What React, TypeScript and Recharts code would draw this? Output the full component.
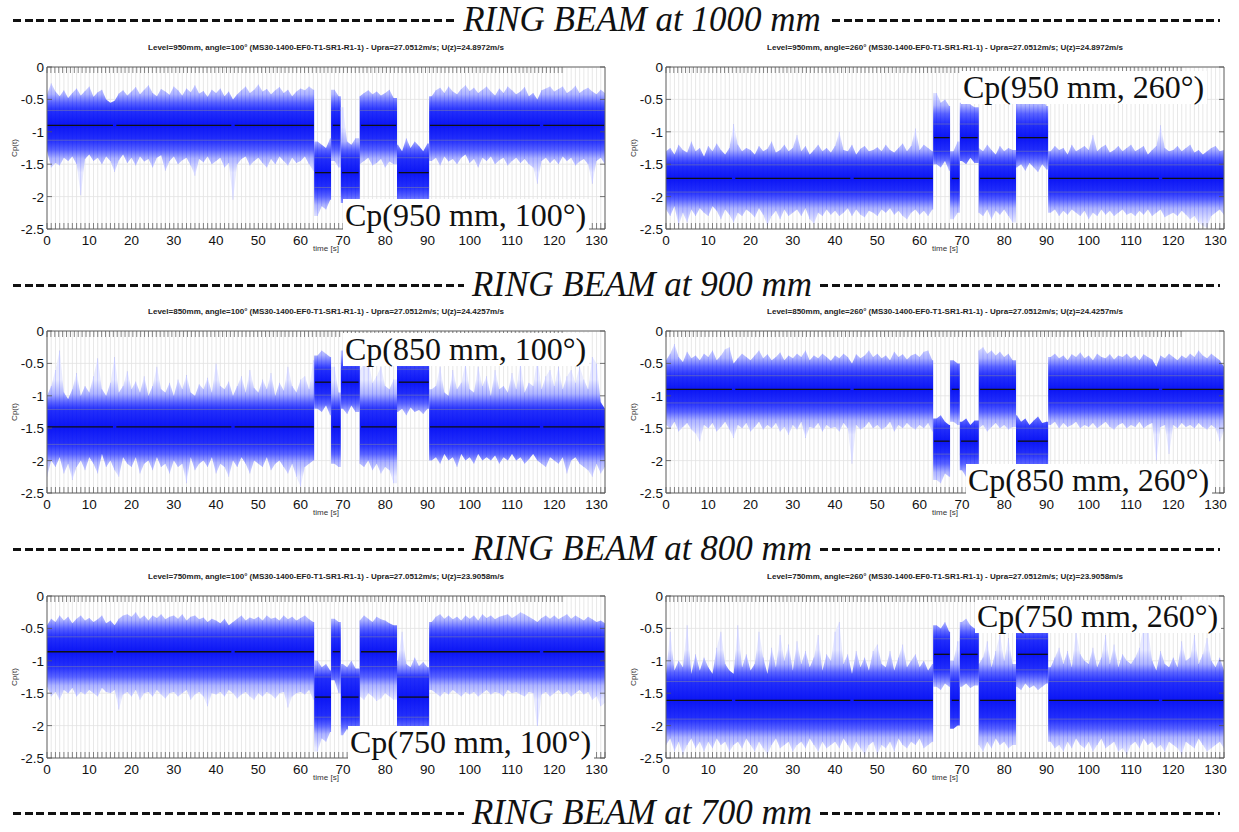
import React, { useMemo } from 'react';
import { ComposedChart, Area, Bar, XAxis, YAxis, CartesianGrid, ReferenceLine } from 'recharts';

// ---- time base (s) -------------------------------------------------------
const T_END = 132;
// Alternating flow regimes: 'base' level and 'shift' level
const SEG_FROM = [0, 63.2, 67.2, 69.5, 74, 82.8, 90.4];
const SEG_TO = [63.2, 67.2, 69.5, 74, 82.8, 90.4, 132];
const SEG_KIND = ['base', 'shift', 'base', 'shift', 'base', 'shift', 'base'];
// Runs over which the running mean is plotted
const MEAN_FROM = [0, 16.4, 44.4, 63.4, 67.6, 69.8, 74.3, 83.2, 90.6, 117.4];
const MEAN_TO = [15.6, 43.6, 63.1, 67.1, 69.3, 73.7, 82.6, 90.3, 116.6, 131.8];
const MEAN_KIND = ['base', 'base', 'base', 'shift', 'base', 'shift', 'base', 'shift', 'base', 'base'];

const X_TICKS = Array.from({ length: T_END + 1 }, (_, i) => i);
const Y_TICKS = [0, -0.5, -1, -1.5, -2, -2.5];

// ---- Level 950 mm, angle 100° ---------------------------------------------
const hi950_100 = [
  -0.42, -0.25, -0.38, -0.45, -0.36, -0.48, -0.40, -0.33, -0.44, -0.37,
  -0.30, -0.46, -0.39, -0.35, -0.50, -0.55, -0.52, -0.41, -0.36, -0.44,
  -0.38, -0.31, -0.42, -0.35, -0.28, -0.40, -0.45, -0.34, -0.38, -0.43,
  -0.30, -0.36, -0.44, -0.33, -0.39, -0.28, -0.41, -0.37, -0.46, -0.35,
  -0.40, -0.33, -0.45, -0.38, -0.50, -0.42, -0.36, -0.30, -0.40, -0.35,
  -0.27, -0.38, -0.34, -0.42, -0.36, -0.31, -0.40, -0.35, -0.45, -0.38,
  -0.33, -0.36, -0.30, -0.35,
  -1.15, -1.20, -1.25, -1.10,
  -0.35, -0.45,
  -0.62, -1.15, -1.20, -1.10,
  -0.45, -0.40, -0.36, -0.42, -0.38, -0.44, -0.40, -0.35, -0.48,
  -1.20, -1.30, -1.10, -1.25, -1.15, -1.22, -1.30, -1.18,
  -0.45, -0.36, -0.32, -0.40, -0.30, -0.38, -0.42, -0.34, -0.28,
  -0.37, -0.32, -0.40, -0.35, -0.30, -0.38, -0.44, -0.33, -0.40, -0.30,
  -0.36, -0.42, -0.38, -0.31, -0.45, -0.40, -0.50, -0.36, -0.33, -0.30,
  -0.38, -0.34, -0.30, -0.40, -0.36, -0.29, -0.40, -0.35, -0.32, -0.38,
  -0.42, -0.35, -0.40,
];
const lo950_100 = [
  -1.30, -1.55, -1.48, -1.52, -1.40, -1.45, -1.38, -1.50, -1.98, -1.42,
  -1.35, -1.45, -1.40, -1.50, -1.38, -1.45, -1.62, -1.44, -1.35, -1.48,
  -1.40, -1.52, -1.38, -1.46, -1.42, -1.55, -1.40, -1.36, -1.60, -1.45,
  -1.38, -1.50, -1.44, -1.40, -1.52, -1.68, -1.42, -1.47, -1.38, -1.50,
  -1.45, -1.40, -1.55, -1.48, -2.05, -1.50, -1.42, -1.38, -1.52, -1.45,
  -1.40, -1.48, -1.55, -1.42, -1.50, -1.38, -1.45, -1.52, -1.40, -1.48,
  -1.45, -1.38, -1.50, -1.60,
  -2.30, -2.15, -2.20, -2.05,
  -1.45, -1.55,
  -2.10, -2.20, -2.15, -2.05,
  -1.50, -1.45, -1.40, -1.52, -1.48, -1.42, -1.55, -1.46, -1.50,
  -2.20, -2.30, -2.15, -2.35, -2.25, -2.20, -2.30, -2.10,
  -1.45, -1.40, -1.52, -1.38, -1.46, -1.42, -1.50, -1.40, -1.35,
  -1.48, -1.42, -1.55, -1.40, -1.45, -1.38, -1.50, -1.44, -1.40, -1.52,
  -1.45, -1.40, -1.48, -1.42, -1.50, -1.55, -1.80, -1.45, -1.40, -1.48,
  -1.42, -1.50, -1.38, -1.45, -1.40, -1.52, -1.46, -1.42, -1.50, -1.80,
  -1.45, -1.40, -1.50,
];
const mean950_100 = [-0.9, -1.63];
const std950_100 = [0.23, 0.23];
const dense950_100 = [-1.28, -0.55, -2.0, -1.28];

// ---- Level 950 mm, angle 260° ---------------------------------------------
const hi950_260 = [
  -1.30, -1.25, -1.35, -1.20, -1.28, -1.32, -1.15, -1.30, -1.25, -1.38,
  -1.22, -1.30, -1.18, -1.28, -1.35, -1.25, -0.88, -1.20, -1.30, -1.25,
  -1.28, -1.35, -1.22, -1.30, -1.26, -1.15, -1.32, -1.28, -1.20, -1.30,
  -1.25, -1.05, -1.30, -1.22, -1.35, -1.28, -1.20, -1.30, -1.25, -1.32,
  -1.22, -1.00, -1.28, -1.30, -1.20, -1.35, -1.26, -1.22, -1.30, -1.28,
  -1.24, -1.30, -1.20, -1.28, -1.32, -1.25, -1.18, -1.30, -1.22, -0.95,
  -1.28, -1.20, -1.25, -1.30,
  -0.40, -0.55, -0.50, -0.60,
  -1.30, -1.15,
  -0.55, -0.50, -0.58, -0.62,
  -1.25, -1.30, -1.20, -1.28, -1.35, -1.22, -1.30, -1.25, -1.28,
  -0.50, -0.45, -0.55, -0.42, -0.50, -0.58, -0.48, -0.60,
  -1.30, -1.22, -1.28, -1.25, -1.35, -1.20, -1.30, -1.26, -1.22,
  -1.28, -1.05, -1.30, -1.24, -1.20, -1.32, -1.28, -1.22, -1.30, -1.25,
  -1.20, -1.30, -1.26, -1.22, -1.35, -1.28, -1.22, -0.90, -1.25, -1.30,
  -1.28, -1.22, -1.30, -1.25, -1.20, -1.32, -1.28, -1.35, -1.30, -1.25,
  -1.22, -1.30, -1.28,
];
const lo950_260 = [
  -2.20, -2.30, -2.15, -2.45, -2.25, -2.40, -2.20, -2.30, -2.18, -2.25,
  -2.30, -2.15, -2.22, -2.35, -2.20, -2.28, -2.40, -2.25, -2.30, -2.20,
  -2.25, -2.32, -2.18, -2.28, -2.45, -2.30, -2.22, -2.35, -2.20, -2.30,
  -2.25, -2.20, -2.30, -2.18, -2.35, -2.42, -2.25, -2.30, -2.20, -2.28,
  -2.22, -2.30, -2.25, -2.18, -2.30, -2.20, -2.28, -2.32, -2.22, -2.25,
  -2.30, -2.20, -2.25, -2.18, -2.28, -2.22, -2.30, -2.35, -2.25, -2.20,
  -2.28, -2.22, -2.30, -2.20,
  -1.50, -1.55, -1.45, -1.60,
  -2.35, -2.25,
  -1.45, -1.50, -1.40, -1.48,
  -2.25, -2.30, -2.20, -2.35, -2.22, -2.28, -2.20, -2.30, -2.40,
  -1.55, -1.50, -1.60, -1.48, -1.55, -1.62, -1.50, -1.58,
  -2.25, -2.20, -2.30, -2.22, -2.28, -2.20, -2.25, -2.30, -2.22,
  -2.35, -2.25, -2.30, -2.20, -2.28, -2.22, -2.30, -2.25, -2.20, -2.28,
  -2.25, -2.30, -2.22, -2.28, -2.20, -2.30, -2.25, -2.20, -2.32, -2.28,
  -2.25, -2.30, -2.22, -2.28, -2.35, -2.30, -2.40, -2.45, -2.48, -2.30,
  -2.25, -2.20, -2.28,
];
const mean950_260 = [-1.72, -1.09];
const std950_260 = [0.21, 0.21];
const dense950_260 = [-2.05, -1.4, -1.42, -0.72];

// ---- Level 850 mm, angle 100° ---------------------------------------------
const hi850_100 = [
  -1.00, -0.85, -0.60, -0.30, -0.95, -1.05, -0.90, -0.65, -1.00, -0.85,
  -0.95, -0.70, -0.42, -0.90, -1.00, -0.80, -0.40, -0.95, -0.85, -0.62,
  -0.90, -0.78, -0.95, -0.70, -1.00, -0.85, -0.55, -0.90, -0.95, -0.80,
  -1.00, -0.75, -0.90, -0.68, -0.95, -1.00, -0.82, -0.90, -0.72, -0.95,
  -0.50, -0.85, -0.90, -0.78, -1.00, -0.85, -0.70, -0.95, -0.60, -0.88,
  -0.95, -0.75, -0.90, -0.65, -1.00, -0.80, -0.92, -0.55, -0.85, -0.95,
  -0.75, -0.70, -0.90, -0.45,
  -0.38, -0.30, -0.35, -0.40,
  -0.55, -0.95,
  -0.30, -0.35, -0.32, -0.38,
  -0.60, -0.50, -0.45, -0.80, -0.70, -0.55, -0.85, -0.90, -0.75,
  -0.35, -0.30, -0.38, -0.32, -0.40, -0.35, -0.30, -0.38,
  -0.90, -0.85, -0.55, -0.95, -1.00, -0.60, -0.90, -0.80, -0.50,
  -0.90, -0.95, -0.55, -0.85, -0.70, -1.00, -0.60, -0.90, -0.85, -0.95,
  -0.65, -0.90, -0.48, -0.95, -0.80, -0.85, -0.42, -0.90, -0.70, -0.60,
  -0.85, -0.55, -0.90, -0.70, -0.60, -0.80, -0.55, -0.75, -0.90, -0.40,
  -0.50, -1.10, -1.20,
];
const lo850_100 = [
  -2.25, -2.00, -2.10, -1.95, -2.20, -2.05, -2.30, -2.10, -2.00, -2.15,
  -1.95, -2.05, -2.20, -1.90, -2.10, -2.00, -2.15, -2.25, -1.95, -2.05,
  -2.10, -1.95, -2.20, -2.05, -2.00, -2.15, -1.95, -2.10, -2.05, -2.20,
  -2.00, -2.10, -2.05, -2.35, -1.95, -2.15, -2.05, -2.00, -2.10, -1.95,
  -2.20, -2.05, -2.10, -2.25, -2.00, -2.10, -1.95, -2.05, -2.20, -2.00,
  -2.05, -2.10, -1.95, -2.15, -2.05, -2.00, -2.10, -2.20, -2.05, -2.25,
  -2.40, -2.10, -2.05, -2.00,
  -1.20, -1.25, -1.15, -1.30,
  -2.05, -2.10,
  -1.20, -1.28, -1.15, -1.25,
  -2.05, -2.10, -2.00, -2.15, -2.05, -2.20, -2.10, -2.15, -2.35,
  -1.25, -1.20, -1.30, -1.18, -1.25, -1.22, -1.28, -1.20,
  -2.00, -1.95, -2.05, -1.90, -2.00, -1.95, -2.10, -1.90, -2.00,
  -1.95, -2.05, -1.90, -2.00, -1.95, -2.00, -1.92, -2.05, -1.95, -2.00,
  -1.90, -2.00, -1.95, -2.05, -1.98, -1.90, -2.00, -2.05, -2.10, -1.95,
  -2.00, -2.05, -1.95, -2.20, -2.00, -1.95, -2.05, -2.10, -2.15, -2.25,
  -2.05, -2.20, -2.10,
];
const mean850_100 = [-1.48, -0.79];
const std850_100 = [0.27, 0.2];
const dense850_100 = [-1.9, -1.1, -1.12, -0.5];

// ---- Level 850 mm, angle 260° ---------------------------------------------
const hi850_260 = [
  -0.45, -0.35, -0.20, -0.40, -0.48, -0.32, -0.42, -0.38, -0.45, -0.35,
  -0.40, -0.30, -0.45, -0.38, -0.28, -0.25, -0.50, -0.42, -0.35, -0.40,
  -0.45, -0.38, -0.30, -0.42, -0.36, -0.45, -0.40, -0.33, -0.45, -0.38,
  -0.42, -0.35, -0.40, -0.30, -0.45, -0.38, -0.42, -0.35, -0.40, -0.46,
  -0.38, -0.42, -0.35, -0.40, -0.50, -0.36, -0.42, -0.38, -0.30, -0.40,
  -0.35, -0.42, -0.38, -0.45, -0.32, -0.40, -0.36, -0.44, -0.38, -0.35,
  -0.40, -0.32, -0.30, -0.45,
  -1.35, -1.30, -1.40, -1.45,
  -0.45, -0.50,
  -1.40, -1.35, -1.45, -1.38,
  -0.30, -0.25, -0.35, -0.30, -0.38, -0.32, -0.40, -0.35, -0.45,
  -1.30, -1.40, -1.35, -1.45, -1.38, -1.32, -1.42, -1.40,
  -0.40, -0.35, -0.42, -0.38, -0.45, -0.36, -0.40, -0.33, -0.42,
  -0.38, -0.45, -0.35, -0.40, -0.42, -0.36, -0.44, -0.38, -0.40, -0.35,
  -0.42, -0.38, -0.45, -0.36, -0.40, -0.44, -0.55, -0.38, -0.42, -0.35,
  -0.40, -0.45, -0.38, -0.42, -0.35, -0.40, -0.30, -0.38, -0.42, -0.35,
  -0.40, -0.45, -0.55,
];
const lo850_260 = [
  -1.45, -1.50, -1.40, -1.55, -1.48, -1.42, -1.52, -1.58, -1.70, -1.45,
  -1.50, -1.42, -1.55, -1.48, -1.40, -1.52, -1.65, -1.45, -1.50, -1.42,
  -1.55, -1.48, -1.40, -1.52, -1.45, -1.50, -1.42, -1.55, -1.48, -1.60,
  -1.45, -1.52, -1.40, -1.65, -1.48, -1.50, -1.42, -1.55, -1.45, -1.50,
  -1.48, -1.55, -1.42, -1.50, -2.05, -1.45, -1.52, -1.48, -1.40, -1.50,
  -1.45, -1.52, -1.48, -1.40, -1.55, -1.45, -1.50, -1.42, -1.48, -1.52,
  -1.45, -1.50, -1.42, -1.55,
  -2.30, -2.35, -2.20, -2.25,
  -1.40, -1.45,
  -2.15, -2.25, -2.40, -2.20,
  -1.50, -1.45, -1.55, -1.48, -1.42, -1.50, -1.45, -1.52, -1.48,
  -2.25, -2.30, -2.20, -2.35, -2.25, -2.30, -2.15, -2.28,
  -1.45, -1.40, -1.50, -1.42, -1.48, -1.45, -1.40, -1.50, -1.45,
  -1.48, -1.42, -1.50, -1.45, -1.40, -1.48, -1.52, -1.45, -1.42, -1.50,
  -1.45, -1.48, -1.40, -1.50, -1.45, -1.42, -2.00, -1.48, -1.45, -1.90,
  -1.45, -1.50, -1.42, -1.48, -1.45, -1.50, -1.42, -1.48, -1.52, -1.45,
  -1.50, -1.70, -1.55,
];
const mean850_260 = [-0.9, -1.7];
const std850_260 = [0.21, 0.2];
const dense850_260 = [-1.25, -0.55, -2.05, -1.38];

// ---- Level 750 mm, angle 100° ---------------------------------------------
const hi750_100 = [
  -0.45, -0.35, -0.40, -0.30, -0.38, -0.32, -0.42, -0.35, -0.30, -0.38,
  -0.34, -0.40, -0.36, -0.30, -0.42, -0.38, -0.45, -0.35, -0.30, -0.28,
  -0.32, -0.25, -0.35, -0.30, -0.38, -0.30, -0.34, -0.28, -0.36, -0.32,
  -0.30, -0.35, -0.28, -0.38, -0.32, -0.30, -0.36, -0.33, -0.40, -0.35,
  -0.38, -0.42, -0.35, -0.45, -0.40, -0.35, -0.30, -0.38, -0.33, -0.36,
  -0.32, -0.38, -0.30, -0.35, -0.33, -0.38, -0.30, -0.36, -0.32, -0.38,
  -0.34, -0.30, -0.36, -0.40,
  -1.00, -1.10, -1.05, -1.15,
  -0.35, -0.40,
  -1.05, -1.10, -1.00, -1.12,
  -0.38, -0.30, -0.35, -0.40, -0.32, -0.36, -0.38, -0.42, -0.45,
  -1.00, -0.55, -1.05, -1.10, -0.95, -1.08, -1.02, -1.10,
  -0.40, -0.32, -0.28, -0.35, -0.30, -0.36, -0.32, -0.38, -0.30,
  -0.35, -0.30, -0.38, -0.28, -0.34, -0.30, -0.36, -0.32, -0.30, -0.28,
  -0.34, -0.30, -0.25, -0.28, -0.32, -0.36, -0.40, -0.34, -0.30, -0.35,
  -0.30, -0.36, -0.32, -0.28, -0.35, -0.30, -0.34, -0.38, -0.32, -0.36,
  -0.40, -0.38, -0.42,
];
const lo750_100 = [
  -1.40, -1.55, -1.48, -1.60, -1.45, -1.50, -1.42, -1.55, -1.48, -1.52,
  -1.45, -1.50, -1.55, -1.42, -1.48, -1.50, -1.45, -1.75, -1.52, -1.48,
  -1.55, -1.45, -1.60, -1.50, -1.48, -1.55, -1.45, -1.52, -1.58, -1.50,
  -1.48, -1.55, -1.50, -1.45, -1.60, -1.52, -1.48, -1.55, -1.70, -1.50,
  -1.52, -1.48, -1.55, -1.45, -1.50, -1.58, -1.52, -1.48, -1.55, -1.60,
  -1.50, -1.55, -1.48, -1.52, -1.58, -1.50, -1.48, -1.72, -1.55, -1.50,
  -1.48, -1.52, -1.45, -1.60,
  -2.40, -2.20, -2.25, -2.10,
  -1.30, -1.50,
  -2.15, -2.05, -2.20, -2.10,
  -1.55, -1.60, -1.50, -1.55, -1.62, -1.58, -1.50, -1.55, -1.60,
  -2.20, -2.30, -2.15, -2.25, -2.20, -2.35, -2.10, -2.15,
  -1.45, -1.50, -1.55, -1.48, -1.52, -1.45, -1.50, -1.55, -1.48,
  -1.52, -1.48, -1.55, -1.50, -1.45, -1.52, -1.48, -1.50, -1.55, -1.45,
  -1.50, -1.48, -1.52, -1.55, -1.48, -1.50, -2.05, -1.52, -1.48, -1.55,
  -1.50, -1.45, -1.52, -1.48, -1.55, -1.50, -1.45, -1.52, -1.48, -1.60,
  -1.55, -1.70, -1.65,
];
const mean750_100 = [-0.86, -1.56];
const std750_100 = [0.23, 0.31];
const dense750_100 = [-1.25, -0.5, -2.0, -1.18];

// ---- Level 750 mm, angle 260° ---------------------------------------------
const hi750_260 = [
  -1.20, -0.55, -1.15, -1.00, -1.10, -0.45, -1.20, -0.90, -1.15, -0.95,
  -1.10, -1.20, -0.80, -0.55, -1.05, -1.15, -1.20, -0.45, -1.10, -0.90,
  -1.15, -1.05, -0.55, -0.95, -1.20, -0.80, -1.10, -0.60, -1.00, -0.75,
  -1.15, -0.70, -1.05, -0.85, -1.10, -0.95, -0.60, -1.15, -0.90, -1.00,
  -0.55, -0.40, -1.05, -0.90, -1.20, -0.85, -1.10, -0.95, -1.15, -0.85,
  -0.75, -1.05, -1.10, -0.85, -1.15, -0.95, -0.75, -1.10, -1.00, -0.90,
  -1.10, -1.00, -1.15, -1.05,
  -0.45, -0.50, -0.40, -0.55,
  -1.00, -0.70,
  -0.40, -0.35, -0.45, -0.50,
  -1.05, -0.95, -0.70, -1.10, -0.85, -0.60, -1.00, -0.65, -1.05,
  -0.45, -0.40, -0.50, -0.35, -0.45, -0.42, -0.48, -0.40,
  -1.10, -0.95, -0.80, -1.05, -0.85, -1.10, -0.55, -0.90, -1.00,
  -1.05, -0.80, -1.10, -0.95, -0.60, -1.05, -0.75, -1.10, -0.90, -1.00,
  -1.05, -0.95, -0.80, -0.45, -0.50, -1.00, -1.15, -0.85, -1.05, -1.10,
  -0.95, -1.10, -0.70, -1.00, -0.95, -0.60, -1.05, -0.90, -0.65, -1.00,
  -1.10, -0.95, -1.15,
];
const lo750_260 = [
  -2.30, -2.20, -2.40, -2.25, -2.45, -2.30, -2.20, -2.35, -2.25, -2.40,
  -2.25, -2.35, -2.20, -2.30, -2.25, -2.40, -2.30, -2.25, -2.35, -2.20,
  -2.30, -2.40, -2.25, -2.35, -2.45, -2.30, -2.20, -2.35, -2.30, -2.25,
  -2.40, -2.30, -2.25, -2.35, -2.20, -2.30, -2.40, -2.25, -2.35, -2.30,
  -2.25, -2.35, -2.20, -2.30, -2.40, -2.25, -2.35, -2.45, -2.30, -2.25,
  -2.45, -2.30, -2.35, -2.25, -2.40, -2.20, -2.30, -2.35, -2.25, -2.30,
  -2.20, -2.35, -2.30, -2.25,
  -1.40, -1.45, -1.35, -1.40,
  -2.05, -2.00,
  -1.40, -1.35, -1.42, -1.38,
  -2.30, -2.40, -2.25, -2.35, -2.20, -2.30, -2.25, -2.35, -2.30,
  -1.40, -1.45, -1.35, -1.42, -1.38, -1.45, -1.40, -1.35,
  -2.25, -2.35, -2.30, -2.40, -2.25, -2.35, -2.20, -2.30, -2.35,
  -2.25, -2.40, -2.30, -2.20, -2.35, -2.30, -2.25, -2.40, -2.35, -2.45,
  -2.30, -2.25, -2.35, -2.20, -2.30, -2.25, -2.35, -2.30, -2.40, -2.25,
  -2.30, -2.35, -2.45, -2.25, -2.30, -2.35, -2.20, -2.30, -2.40, -2.35,
  -2.30, -2.25, -2.35,
];
const mean750_260 = [-1.61, -0.9];
const std750_260 = [0.29, 0.24];
const dense750_260 = [-2.05, -1.18, -1.25, -0.55];

// ---- layout ----------------------------------------------------------------
const ROW_TOP = [67, 331, 596];
const COL_LEFT = [47, 666];
const PLOT_W = 558;
const PLOT_H = 162;
const PAD_L = 40;
const PAD_T = 10;
const PAD_B = 30;
const PAD_R = 10;
const Y_MIN = -2.5;

const SANS = '"Liberation Sans", Arial, sans-serif';
const SERIF = '"Liberation Serif", "Times New Roman", serif';

const PANELS = [
  { row: 0, col: 0, level: 950, angle: 100, uz: '24.8972', hi: hi950_100, lo: lo950_100, mean: mean950_100, std: std950_100, dense: dense950_100, tagX: 345, tagY: 226 },
  { row: 0, col: 1, level: 950, angle: 260, uz: '24.8972', hi: hi950_260, lo: lo950_260, mean: mean950_260, std: std950_260, dense: dense950_260, tagX: 963, tagY: 98 },
  { row: 1, col: 0, level: 850, angle: 100, uz: '24.4257', hi: hi850_100, lo: lo850_100, mean: mean850_100, std: std850_100, dense: dense850_100, tagX: 345, tagY: 360 },
  { row: 1, col: 1, level: 850, angle: 260, uz: '24.4257', hi: hi850_260, lo: lo850_260, mean: mean850_260, std: std850_260, dense: dense850_260, tagX: 968, tagY: 491 },
  { row: 2, col: 0, level: 750, angle: 100, uz: '23.9058', hi: hi750_100, lo: lo750_100, mean: mean750_100, std: std750_100, dense: dense750_100, tagX: 350, tagY: 753 },
  { row: 2, col: 1, level: 750, angle: 260, uz: '23.9058', hi: hi750_260, lo: lo750_260, mean: mean750_260, std: std750_260, dense: dense750_260, tagX: 977, tagY: 627 },
];

const HEADERS = [
  { text: 'RING BEAM at 1000 mm', y: 20 },
  { text: 'RING BEAM at 900 mm', y: 285 },
  { text: 'RING BEAM at 800 mm', y: 549 },
  { text: 'RING BEAM at 700 mm', y: 813 },
];

// Rows for the envelope layers; duplicate times at regime changes give vertical edges
function buildRows(hi: number[], lo: number[]) {
  const rows: any[] = [];
  SEG_FROM.forEach((from, s) => {
    const to = SEG_TO[s];
    const key = SEG_KIND[s] === 'base' ? 'envBase' : 'envShift';
    const first = Math.ceil(from);
    const last = Number.isInteger(to) && to !== T_END ? to - 1 : Math.floor(to);
    const times: number[] = [from];
    for (let i = first; i <= last; i++) if (i > from && i < to) times.push(i);
    times.push(to);
    times.forEach((t) => {
      const idx = Math.min(last, Math.max(first, Math.round(t)));
      const row: any = { t, envBase: null, envShift: null };
      row[key] = [lo[idx], hi[idx]];
      if (Number.isInteger(t) && idx === t) row.spike = [lo[idx], hi[idx]];
      rows.push(row);
    });
  });
  return rows;
}

// Pixel row (inside one chart's svg) of a Cp value
const py = (v: number) => PAD_T + (v / Y_MIN) * PLOT_H;

// Density shading of one regime: dark at the mean, fading out past the dense band
function DensityGradient({ id, mean, std, dLo, dHi }: { id: string; mean: number; std: number; dLo: number; dHi: number }) {
  const top = dHi + 0.35;
  const bot = dLo - 0.35;
  const y1 = py(top);
  const y2 = py(bot);
  const off = (v: number) => Math.min(1, Math.max(0, (py(v) - y1) / (y2 - y1)));
  const stops: [number, string][] = [
    [0, '#e9ebff'],
    [off(dHi + 0.13), '#aeb4ff'],
    [off(dHi), '#5a64ff'],
    [off(mean + std), '#2430fb'],
    [off(mean), '#0c16f4'],
    [off(mean - std), '#2430fb'],
    [off(dLo), '#5a64ff'],
    [off(dLo - 0.13), '#aeb4ff'],
    [1, '#e9ebff'],
  ];
  return (
    <linearGradient id={id} gradientUnits="userSpaceOnUse" x1={0} x2={0} y1={y1} y2={y2}>
      {stops.map(([o, c], i) => (
        <stop key={i} offset={o} stopColor={c} />
      ))}
    </linearGradient>
  );
}

const TICK_STROKE = '#555';

const BottomTick = (props: any) => {
  const { x, y, payload } = props;
  const v = payload.value;
  return (
    <g>
      <line x1={x} x2={x} y1={y} y2={y - 6} stroke={TICK_STROKE} strokeWidth={0.7} />
      {v % 10 === 0 && v <= 130 ? (
        <text x={x} y={y + 16} textAnchor="middle" fontSize={13.5} fontFamily={SANS} fill="#111">
          {v}
        </text>
      ) : null}
    </g>
  );
};

const TopTick = (props: any) => {
  const { x, y } = props;
  return <line x1={x} x2={x} y1={y} y2={y + 6} stroke={TICK_STROKE} strokeWidth={0.7} />;
};

const LeftTick = (props: any) => {
  const { x, y, payload } = props;
  return (
    <g>
      <line x1={x} x2={x + 5} y1={y} y2={y} stroke={TICK_STROKE} strokeWidth={0.8} />
      <text x={x - 3} y={y + 5} textAnchor="end" fontSize={13.5} fontFamily={SANS} fill="#111">
        {String(payload.value)}
      </text>
    </g>
  );
};

const RightTick = (props: any) => {
  const { x, y } = props;
  return <line x1={x} x2={x - 5} y1={y} y2={y} stroke={TICK_STROKE} strokeWidth={0.8} />;
};

function Panel({ cfg }: { cfg: any }) {
  const rows = useMemo(() => buildRows(cfg.hi, cfg.lo), [cfg]);
  const left = COL_LEFT[cfg.col];
  const top = ROW_TOP[cfg.row];
  const kindIdx = (kind: string) => (kind === 'base' ? 0 : 1);
  const gid = `dens-${cfg.level}-${cfg.angle}`;
  return (
    <div style={{ position: 'absolute', left: left - PAD_L, top: top - PAD_T }}>
      <svg width={0} height={0} style={{ position: 'absolute' }}>
        <defs>
          <DensityGradient id={`${gid}-base`} mean={cfg.mean[0]} std={cfg.std[0]} dLo={cfg.dense[0]} dHi={cfg.dense[1]} />
          <DensityGradient id={`${gid}-shift`} mean={cfg.mean[1]} std={cfg.std[1]} dLo={cfg.dense[2]} dHi={cfg.dense[3]} />
        </defs>
      </svg>
      <ComposedChart
        width={PLOT_W + PAD_L + PAD_R}
        height={PLOT_H + PAD_T + PAD_B}
        data={rows}
        margin={{ top: PAD_T - 2, right: PAD_R - 2, bottom: PAD_B - 28, left: PAD_L - 30 }}
      >
        <CartesianGrid stroke="#e2e2e2" strokeWidth={0.8} />
        <XAxis
          dataKey="t"
          type="number"
          domain={[0, T_END]}
          ticks={X_TICKS}
          interval={0}
          tickSize={0}
          tickMargin={0}
          tick={<BottomTick />}
          height={28}
          axisLine={{ stroke: '#666' }}
          allowDataOverflow
        />
        <XAxis
          xAxisId="top"
          orientation="top"
          type="number"
          domain={[0, T_END]}
          ticks={X_TICKS}
          interval={0}
          tickSize={0}
          tickMargin={0}
          tick={<TopTick />}
          height={2}
          axisLine={{ stroke: '#666' }}
          allowDataOverflow
        />
        <YAxis
          type="number"
          domain={[Y_MIN, 0]}
          ticks={Y_TICKS}
          interval={0}
          width={30}
          tickSize={0}
          tickMargin={0}
          tick={<LeftTick />}
          axisLine={{ stroke: '#666' }}
          allowDataOverflow
        />
        <YAxis
          yAxisId="right"
          orientation="right"
          type="number"
          domain={[Y_MIN, 0]}
          ticks={Y_TICKS}
          interval={0}
          width={2}
          tickSize={0}
          tickMargin={0}
          tick={<RightTick />}
          axisLine={{ stroke: '#666' }}
          allowDataOverflow
        />
        <Area dataKey="envBase" type="linear" stroke="none" fill={`url(#${gid}-base)`} fillOpacity={1} isAnimationActive={false} dot={false} activeDot={false} />
        <Area dataKey="envShift" type="linear" stroke="none" fill={`url(#${gid}-shift)`} fillOpacity={1} isAnimationActive={false} dot={false} activeDot={false} />
        <Bar dataKey="spike" barSize={1.3} fill="#0010ff" fillOpacity={0.2} isAnimationActive={false} />
        {SEG_FROM.map((from, s) => {
          const k = kindIdx(SEG_KIND[s]);
          return [1, -1].map((sg) => (
            <ReferenceLine
              key={`sd-${s}-${sg}`}
              segment={[
                { x: from, y: cfg.mean[k] + sg * cfg.std[k] },
                { x: SEG_TO[s], y: cfg.mean[k] + sg * cfg.std[k] },
              ]}
              stroke="#8e8e9a"
              strokeOpacity={0.6}
              strokeWidth={0.8}
              ifOverflow="visible"
            />
          ));
        })}
        {MEAN_FROM.map((from, r) => {
          const k = kindIdx(MEAN_KIND[r]);
          return (
            <ReferenceLine
              key={`m-${r}`}
              segment={[
                { x: from, y: cfg.mean[k] },
                { x: MEAN_TO[r], y: cfg.mean[k] },
              ]}
              stroke="#111"
              strokeWidth={1.3}
              ifOverflow="visible"
            />
          );
        })}
      </ComposedChart>
    </div>
  );
}

function Header({ text, y }: { text: string; y: number }) {
  return (
    <>
      <div
        style={{
          position: 'absolute',
          left: 13,
          top: y - 1,
          width: 1207,
          height: 3,
          background: 'repeating-linear-gradient(to right, #111 0px, #111 8px, transparent 8px, transparent 11.7px)',
        }}
      />
      <div
        style={{
          position: 'absolute',
          left: 0,
          width: 1284,
          top: y - 17,
          height: 34,
          textAlign: 'center',
          lineHeight: '34px',
        }}
      >
        <span
          style={{
            background: '#fff',
            padding: '0 8px',
            fontFamily: SERIF,
            fontStyle: 'italic',
            fontSize: 35,
            color: '#111',
          }}
        >
          {text}
        </span>
      </div>
    </>
  );
}

export default function App() {
  return (
    <div style={{ position: 'absolute', left: 0, top: 0, width: 1239, height: 832, background: '#fff', overflow: 'hidden' }}>
      {HEADERS.map((h) => (
        <Header key={h.text} text={h.text} y={h.y} />
      ))}
      {PANELS.map((p) => (
        <Panel key={`${p.level}-${p.angle}`} cfg={p} />
      ))}
      <svg width={1239} height={832} style={{ position: 'absolute', left: 0, top: 0, pointerEvents: 'none' }}>
        {PANELS.map((p) => {
          const left = COL_LEFT[p.col];
          const top = ROW_TOP[p.row];
          const cx = left + PLOT_W / 2;
          return (
            <g key={`txt-${p.level}-${p.angle}`}>
              <text x={cx} y={top - 17} textAnchor="middle" fontFamily={SANS} fontWeight="bold" fontSize={8} fill="#222">
                {`Level=${p.level}mm, angle=${p.angle}° (MS30-1400-EF0-T1-SR1-R1-1) - Upra=27.0512m/s; U(z)=${p.uz}m/s`}
              </text>
              <text
                x={left - 30}
                y={top + PLOT_H / 2}
                transform={`rotate(-90 ${left - 30} ${top + PLOT_H / 2})`}
                textAnchor="middle"
                fontFamily={SANS}
                fontSize={8}
                fill="#333"
              >
                Cp(t)
              </text>
              <text x={cx} y={top + PLOT_H + 22} textAnchor="middle" fontFamily={SANS} fontSize={8} fill="#333">
                time [s]
              </text>
              <rect x={p.tagX - 2} y={p.tagY - 27} width={246} height={33} fill="#fff" />
              <text x={p.tagX} y={p.tagY} fontFamily={SERIF} fontSize={32} fill="#111">
                {`Cp(${p.level} mm, ${p.angle}°)`}
              </text>
            </g>
          );
        })}
      </svg>
    </div>
  );
}
